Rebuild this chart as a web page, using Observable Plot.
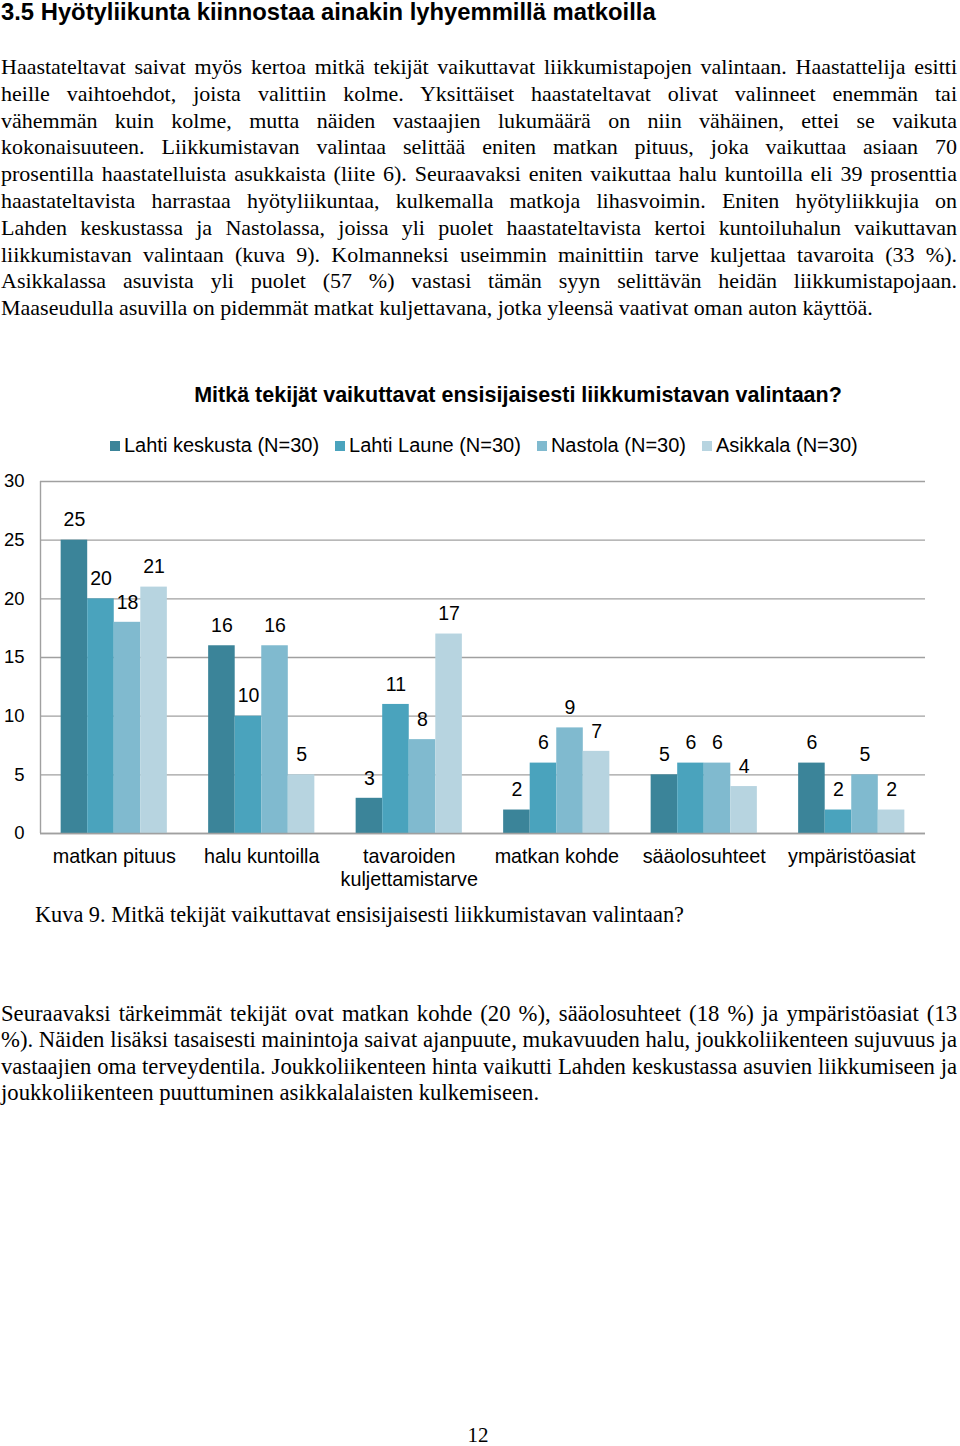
<!DOCTYPE html>
<html>
<head>
<meta charset="utf-8">
<script src="https://cdn.jsdelivr.net/npm/d3@7"></script>
<script src="https://cdn.jsdelivr.net/npm/@observablehq/plot@0.6"></script>
<style>
  html, body { margin: 0; padding: 0; background: #fff; }
  body { width: 960px; height: 1446px; position: relative; overflow: hidden; color: #000; }
  h1 { position: absolute; left: 1px; top: -2px; margin: 0; font: bold 23.8px "Liberation Sans", Arial, sans-serif; line-height: 28px; }
  .para { position: absolute; left: 1px; width: 956px; font-family: "Liberation Serif", serif; }
  .para div { text-align: justify; text-align-last: justify; white-space: nowrap; }
  .para div.last { text-align-last: left; }
  .ctitle { position: absolute; left: 0; width: 1036px; text-align: center; top: 383px; font: bold 21.5px "Liberation Sans", Arial, sans-serif; }
  .legend { position: absolute; left: 110px; top: 434px; display: flex; font: 20px "Liberation Sans", Arial, sans-serif; }
  .legend span.item { display: flex; align-items: center; margin-right: 16px; }
  .legend span.sw { width: 10px; height: 10px; display: inline-block; margin-right: 4px; }
  .caption { position: absolute; left: 35px; top: 902px; font: 22.3px "Liberation Serif", serif; }
  .pnum { position: absolute; left: 0; width: 956px; text-align: center; top: 1423px; font: 21px "Liberation Serif", serif; }
  #chart { position: absolute; left: 0; top: 460px; }
</style>
</head>
<body>
<h1>3.5 Hyötyliikunta kiinnostaa ainakin lyhyemmillä matkoilla</h1>

<div class="para" id="p1" style="top:54px; line-height:26.8px; font-size:22px;">
  <div>Haastateltavat saivat myös kertoa mitkä tekijät vaikuttavat liikkumistapojen valintaan. Haastattelija esitti</div>
  <div>heille vaihtoehdot, joista valittiin kolme. Yksittäiset haastateltavat olivat valinneet enemmän tai</div>
  <div>vähemmän kuin kolme, mutta näiden vastaajien lukumäärä on niin vähäinen, ettei se vaikuta</div>
  <div>kokonaisuuteen. Liikkumistavan valintaa selittää eniten matkan pituus, joka vaikuttaa asiaan 70</div>
  <div>prosentilla haastatelluista asukkaista (liite 6). Seuraavaksi eniten vaikuttaa halu kuntoilla eli 39 prosenttia</div>
  <div>haastateltavista harrastaa hyötyliikuntaa, kulkemalla matkoja lihasvoimin. Eniten hyötyliikkujia on</div>
  <div>Lahden keskustassa ja Nastolassa, joissa yli puolet haastateltavista kertoi kuntoiluhalun vaikuttavan</div>
  <div>liikkumistavan valintaan (kuva 9). Kolmanneksi useimmin mainittiin tarve kuljettaa tavaroita (33 %).</div>
  <div>Asikkalassa asuvista yli puolet (57 %) vastasi tämän syyn selittävän heidän liikkumistapojaan.</div>
  <div class="last">Maaseudulla asuvilla on pidemmät matkat kuljettavana, jotka yleensä vaativat oman auton käyttöä.</div>
</div>

<div class="ctitle">Mitkä tekijät vaikuttavat ensisijaisesti liikkumistavan valintaan?</div>
<div class="legend" id="legend"></div>
<div id="chart"></div>
<div class="caption">Kuva 9. Mitkä tekijät vaikuttavat ensisijaisesti liikkumistavan valintaan?</div>

<div class="para" id="p2" style="top:1001px; line-height:26.4px; font-size:22.7px;">
  <div>Seuraavaksi tärkeimmät tekijät ovat matkan kohde (20 %), sääolosuhteet (18 %) ja ympäristöasiat (13</div>
  <div>%). Näiden lisäksi tasaisesti mainintoja saivat ajanpuute, mukavuuden halu, joukkoliikenteen sujuvuus ja</div>
  <div>vastaajien oma terveydentila. Joukkoliikenteen hinta vaikutti Lahden keskustassa asuvien liikkumiseen ja</div>
  <div class="last">joukkoliikenteen puuttuminen asikkalalaisten kulkemiseen.</div>
</div>

<div class="pnum">12</div>

<script>
// ---- data ----
const categories = ["matkan pituus", "halu kuntoilla", "tavaroiden\nkuljettamistarve", "matkan kohde", "sääolosuhteet", "ympäristöasiat"];
const seriesNames = ["Lahti keskusta (N=30)", "Lahti Laune (N=30)", "Nastola (N=30)", "Asikkala (N=30)"];
const lahtiKeskusta = [25, 16, 3, 2, 5, 6];
const lahtiLaune    = [20, 10, 11, 6, 6, 2];
const nastola       = [18, 16, 8, 9, 6, 5];
const asikkala      = [21, 5, 17, 7, 4, 2];
const yTicks = [0, 5, 10, 15, 20, 25, 30];
const seriesColors = ["#3b8499", "#4aa3bd", "#80bacf", "#b7d4e0"];

// ---- fit justified text lines so none overflows the column ----
function fitLines(id, maxW) {
  document.querySelectorAll(`#${id} div`).forEach(div => {
    const span = document.createElement("span");
    span.textContent = div.textContent;
    span.style.whiteSpace = "nowrap";
    div.textContent = "";
    div.appendChild(span);
    const w = span.getBoundingClientRect().width;
    const n = span.textContent.length;
    if (w > maxW) {
      const ls = parseFloat(getComputedStyle(div).letterSpacing) || 0;
      div.style.letterSpacing = (ls - (w - maxW + 2) / n) + "px";
    }
    div.textContent = span.textContent;
  });
}
fitLines("p1", 956);
fitLines("p2", 956);

// ---- build table ----
const seriesValues = [lahtiKeskusta, lahtiLaune, nastola, asikkala];
const groupPad = 0.14, barW = 0.18;
const rows = [];
categories.forEach((cat, i) => {
  seriesValues.forEach((vals, s) => {
    const x1 = i + groupPad + s * barW;
    rows.push({cat, series: seriesNames[s], value: vals[i], x1, x2: x1 + barW, xm: x1 + barW / 2});
  });
});
const catRows = categories.map((c, i) => ({cat: c, xc: i + 0.5}));

// ---- legend ----
const leg = document.getElementById("legend");
seriesNames.forEach((n, s) => {
  const it = document.createElement("span");
  it.className = "item";
  it.innerHTML = `<span class="sw" style="background:${seriesColors[s]}"></span>${n}`;
  leg.appendChild(it);
});

// ---- chart ----
const chart = Plot.plot({
  width: 960,
  height: 440,
  marginTop: 21,
  marginBottom: 67,
  marginLeft: 40,
  marginRight: 35,
  style: {fontFamily: "'Liberation Sans', Arial, sans-serif", background: "transparent", overflow: "visible"},
  x: {domain: [0, categories.length], axis: null},
  y: {domain: [0, 30], axis: null},
  color: {domain: seriesNames, range: seriesColors},
  marks: [
    Plot.ruleY(yTicks, {stroke: "#a0a0a0", strokeWidth: 1.4}),
    Plot.ruleX([0], {y1: 0, y2: 30, stroke: "#a0a0a0", strokeWidth: 1.4}),
    Plot.rectY(rows, {x1: "x1", x2: "x2", y1: 0, y2: "value", fill: "series"}),
    Plot.ruleY([0], {stroke: "#a0a0a0", strokeWidth: 1.6}),
    Plot.text(rows, {x: "xm", y: "value", text: d => String(d.value), dy: -20, fontSize: 19.5, fill: "#000"}),
    Plot.axisY({ticks: yTicks, tickSize: 0, tickPadding: 16, fontSize: 18.5, fill: "#000", label: null}),
    Plot.text(catRows, {x: "xc", y: 0, text: "cat", dy: 13, lineAnchor: "top", lineHeight: 1.17, fontSize: 19.8, fill: "#000"})
  ]
});
document.getElementById("chart").appendChild(chart);
</script>
</body>
</html>
